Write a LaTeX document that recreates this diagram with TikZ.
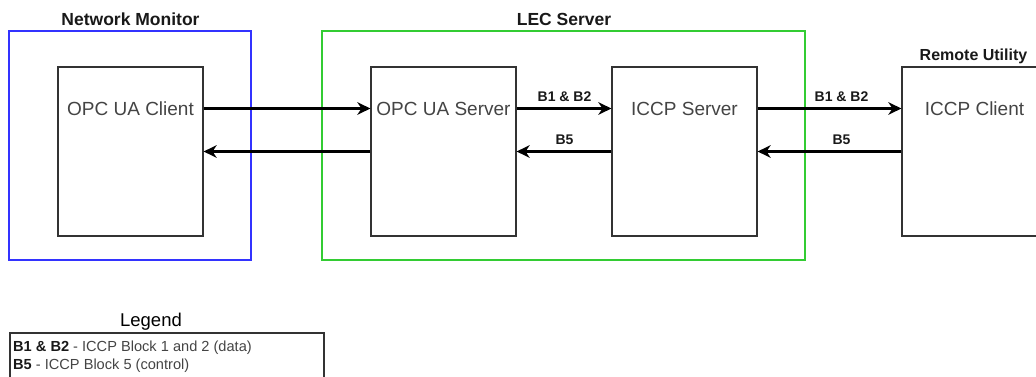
\documentclass[tikz,border=0pt]{standalone}
\usepackage{fontspec}
\setmainfont{Liberation Sans}
\usetikzlibrary{arrows.meta}
\definecolor{edge}{HTML}{333333}
\definecolor{txt}{HTML}{444444}
\definecolor{monblue}{HTML}{3333FF}
\definecolor{lecgreen}{HTML}{33CC33}
\tikzset{
  unitbox/.style={draw=edge, line width=1.2pt, fill=white, minimum width=145pt, minimum height=169pt, inner sep=0pt},
  unitname/.style={anchor=base, inner sep=0pt, text=txt, font=\fontsize{19}{22}\selectfont},
  groupbox/.style={line width=2.4pt, minimum height=229pt, inner sep=0pt},
  grouptitle/.style={anchor=base, inner sep=0pt, text=black!90, font=\fontsize{17.5}{20}\selectfont\bfseries},
  flow/.style={line width=2.1pt, black, -{Stealth[length=13pt, width=12.5pt, inset=4pt]}},
  blocktag/.style={anchor=base, inner sep=0pt, text=black!90, font=\fontsize{14}{16}\selectfont\bfseries},
  legendline/.style={anchor=base west, inner sep=0pt, text=txt, font=\fontsize{14.6}{17}\selectfont},
}
\begin{document}
\begin{tikzpicture}[x=1pt, y=-1pt]
  \useasboundingbox (0,0) rectangle (1036,377);
  \clip (0,0) rectangle (1036,377);

  % system groups
  \node[groupbox, draw=monblue, minimum width=242pt] (mon) at (130,145.5) {};
  \node[groupbox, draw=lecgreen, minimum width=483pt] (lec) at (563.5,145.5) {};
  \node[grouptitle] (montitle) at (130.5,26) {Network Monitor};
  \node[grouptitle] (lectitle) at (564,26) {LEC Server};
  \node[grouptitle, font=\fontsize{16}{19}\selectfont\bfseries] (remtitle) at (973.5,61) {Remote Utility};

  % components
  \node[unitbox] (cli) at (130.5,151.5) {};
  \node[unitbox] (srv) at (443.5,151.5) {};
  \node[unitbox] (isrv) at (684.5,151.5) {};
  \node[unitbox] (icli) at (974.5,151.5) {};
  \node[unitname] (clit) at (130.5,115.8) {OPC UA Client};
  \node[unitname] (srvt) at (443.5,115.8) {OPC UA Server};
  \node[unitname] (isrvt) at (684.5,115.8) {ICCP Server};
  \node[unitname] (iclit) at (974.5,115.8) {ICCP Client};

  % data flows
  \coordinate (up) at (0,108.5);
  \draw[flow] (cli.east |- up) -- (srv.west |- up);
  \draw[flow] (srv.west) -- (cli.east);
  \draw[flow] (srv.east |- up) -- (isrv.west |- up);
  \draw[flow] (isrv.west) -- (srv.east);
  \draw[flow] (isrv.east |- up) -- (icli.west |- up);
  \draw[flow] (icli.west) -- (isrv.east);

  \node[blocktag] (t1) at (564.5,101.7) {B1 \& B2};
  \node[blocktag] (t2) at (564.5,145) {B5};
  \node[blocktag] (t3) at (841.5,101.7) {B1 \& B2};
  \node[blocktag] (t4) at (841.5,144.5) {B5};

  % legend
  \node[anchor=base, inner sep=0pt, font=\fontsize{18.5}{21}\selectfont] (legt) at (151,326.5) {Legend};
  \node[draw=edge, line width=2.2pt, minimum width=314pt, minimum height=80pt, inner sep=0pt, anchor=north west] (leg) at (9,332) {};
  \node[legendline] (l1) at (13,351.7) {{\color{black!90}\bfseries B1 \& B2} - ICCP Block 1 and 2 (data)};
  \node[legendline] (l2) at (13,369) {{\color{black!90}\bfseries B5} - ICCP Block 5 (control)};
\end{tikzpicture}
\end{document}
